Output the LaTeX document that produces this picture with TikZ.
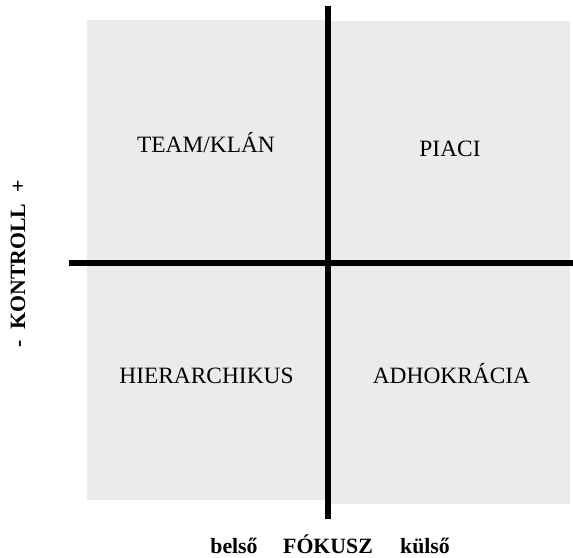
\documentclass[tikz,border=0pt]{standalone}
\usepackage{fontspec}
\setmainfont{Liberation Serif}
\definecolor{panel}{RGB}{235,235,235}
\begin{document}
\begin{tikzpicture}[x=1pt,y=-1pt,
  quad/.style={font=\fontsize{23.4}{27}\selectfont, anchor=base},
  axislabel/.style={font=\fontsize{21.8}{25}\selectfont\bfseries, anchor=base},
  axisline/.style={line width=5.5pt, black}]
  \useasboundingbox (0,0) rectangle (573,557);
  % quadrant backgrounds
  \fill[panel] (87,20) rectangle (328,500);
  \fill[panel] (328,21) rectangle (570,504);
  % axes
  \coordinate (vtop) at (328,6);
  \coordinate (vbot) at (328,519);
  \coordinate (hleft) at (69,263);
  \coordinate (hright) at (573,263);
  \draw[axisline] (vtop) -- (vbot);
  \draw[axisline, line width=6pt] (hleft) -- (hright);
  % quadrant names
  \node[quad] (team) at (206,152) {TEAM/KLÁN};
  \node[quad] (piaci) at (450,156) {PIACI};
  \node[quad] (hier) at (206.5,383) {HIERARCHIKUS};
  \node[quad] (adho) at (451.5,383) {ADHOKRÁCIA};
  % axis titles
  \node[axislabel] (belso) at (234,553) {belső};
  \node[axislabel] (fokusz) at (328,553) {FÓKUSZ};
  \node[axislabel] (kulso) at (425,553) {külső};
  \node[axislabel, rotate=90] (kontroll) at (25,264) {-\hspace{11pt}KONTROLL\hspace{11pt}+};
\end{tikzpicture}
\end{document}
